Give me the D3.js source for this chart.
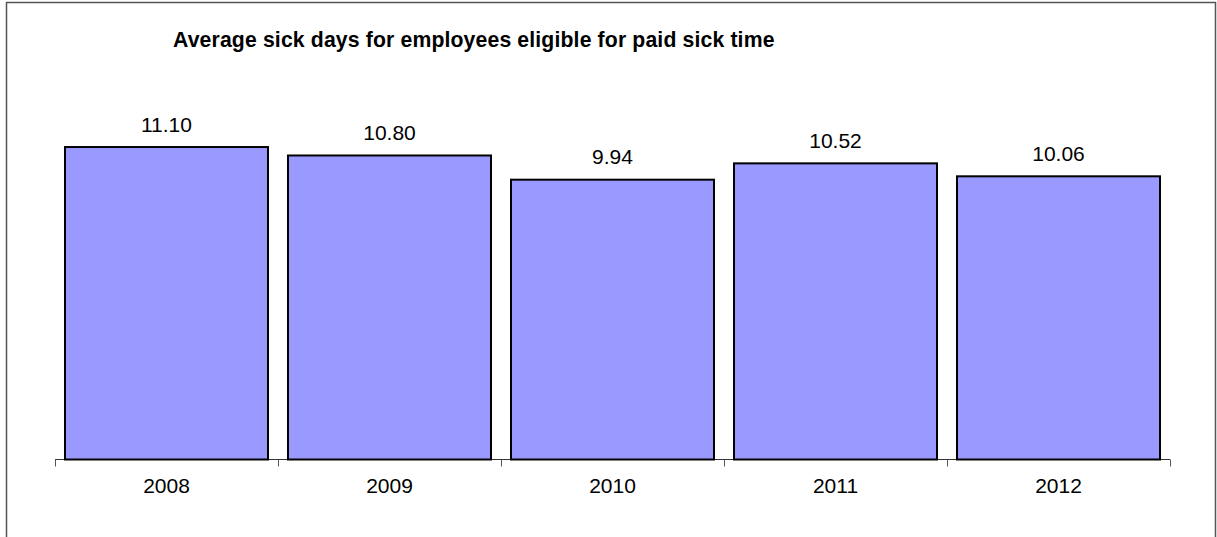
<!DOCTYPE html>
<html>
<head>
<meta charset="utf-8">
<script src="https://cdn.jsdelivr.net/npm/d3@7"></script>
<style>
  html, body { margin: 0; padding: 0; background: #fff; }
  svg { display: block; font-family: "Liberation Sans", Arial, sans-serif; }
</style>
</head>
<body>
<svg id="chart" width="1217" height="537"></svg>
<script>
// Chart data
const years = ["2008", "2009", "2010", "2011", "2012"];
const sickDays = [11.10, 10.80, 9.94, 10.52, 10.06];
const chartTitle = "Average sick days for employees eligible for paid sick time";

const svg = d3.select("#chart");
const W = 1217, H = 537;

// Outer frame
svg.append("rect")
  .attr("x", 6.5).attr("y", 2.5)
  .attr("width", 1209).attr("height", H + 10)
  .attr("fill", "#fff")
  .attr("stroke", "#555").attr("stroke-width", 1.5);

// Plot area
const plot = { left: 55, right: 1170, top: 65, bottom: 459.5 };

const x = d3.scaleBand()
  .domain(years)
  .range([plot.left, plot.right])
  .paddingInner(0.0897)
  .paddingOuter(0.0448);

const y = d3.scaleLinear()
  .domain([0, 14])
  .range([plot.bottom, plot.bottom - 14 * 28.15]);

// Title
svg.append("text")
  .attr("x", 173).attr("y", 46.5)
  .attr("font-size", 21.2)
  .attr("font-weight", "bold")
  .attr("letter-spacing", 0.15)
  .attr("fill", "#000")
  .text(chartTitle);

const data = years.map((yr, i) => ({ year: yr, value: sickDays[i] }));

// Category axis with ticks at band boundaries
const axisG = svg.append("g");
axisG.append("line")
  .attr("x1", plot.left).attr("x2", plot.right)
  .attr("y1", plot.bottom).attr("y2", plot.bottom)
  .attr("stroke", "#333").attr("stroke-width", 1);

const boundaries = years.map(yr => x(yr) - x.step() * x.paddingOuter());
boundaries.push(plot.right);
axisG.selectAll("line.tick")
  .data(boundaries)
  .join("line")
  .attr("class", "tick")
  .attr("x1", d => Math.round(d) + 0.5).attr("x2", d => Math.round(d) + 0.5)
  .attr("y1", plot.bottom).attr("y2", plot.bottom + 7)
  .attr("stroke", "#555").attr("stroke-width", 1);

axisG.selectAll("text.year")
  .data(years)
  .join("text")
  .attr("class", "year")
  .attr("x", d => x(d) + x.bandwidth() / 2)
  .attr("y", 493.3)
  .attr("text-anchor", "middle")
  .attr("font-size", 21)
  .attr("fill", "#000")
  .text(d => d);

// Bars
svg.selectAll("rect.bar")
  .data(data)
  .join("rect")
  .attr("class", "bar")
  .attr("x", d => x(d.year))
  .attr("y", d => y(d.value))
  .attr("width", x.bandwidth())
  .attr("height", d => y(0) - y(d.value))
  .attr("fill", "#9999FF")
  .attr("stroke", "#000")
  .attr("stroke-width", 2);

// Value labels
svg.selectAll("text.value")
  .data(data)
  .join("text")
  .attr("class", "value")
  .attr("x", d => x(d.year) + x.bandwidth() / 2)
  .attr("y", d => y(d.value) - 15.5)
  .attr("text-anchor", "middle")
  .attr("font-size", 21)
  .attr("fill", "#000")
  .text(d => d.value.toFixed(2));
</script>
</body>
</html>
